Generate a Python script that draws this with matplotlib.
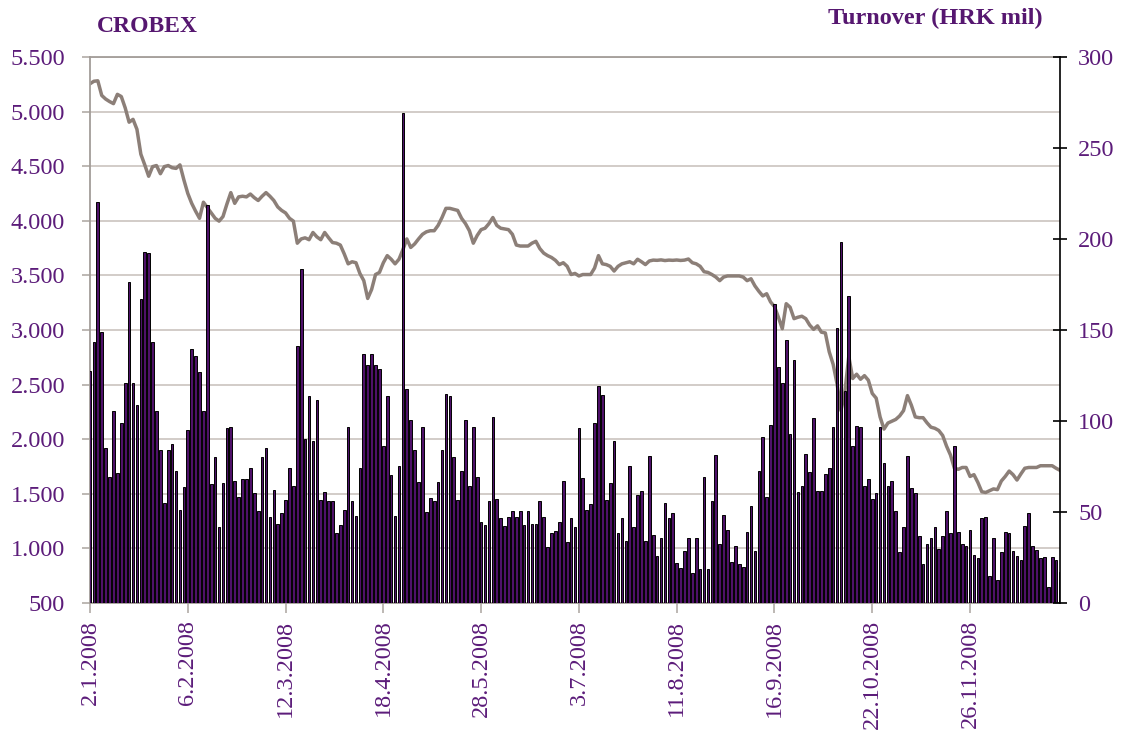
import matplotlib
matplotlib.use("Agg")
import matplotlib.pyplot as plt
from matplotlib.ticker import FuncFormatter, MultipleLocator

# daily turnover, HRK mil (right axis)
turnover = [
    127.6, 143.3, 220.6, 149.1, 85.1, 69.5, 105.7, 71.4, 98.8, 120.9,
    176.1, 120.9, 108.6, 167.3, 192.8, 192.2, 143.3, 105.7, 84.2, 54.8,
    84.2, 87.1, 72.4, 50.9, 63.6, 94.9, 139.3, 135.6, 126.8, 105.7,
    218.8, 65.6,
    80.2, 41.5, 66.1, 96.3, 96.9, 66.9, 58.3, 68.1, 68.1, 74.4,
    60.7, 50.5, 80.2, 85.1, 47.4, 62.2, 43.4, 49.3, 56.4, 74.4,
    64.2, 141.3, 183.4, 90.0, 113.9, 89.0, 111.5, 56.4, 61.1, 55.8,
    55.8, 38.7, 42.7, 51.3, 96.9, 55.8, 47.9, 74.4, 136.6, 130.7,
    136.6, 130.7, 128.6, 86.5, 113.9, 70.5, 47.9, 75.3, 269.5, 117.8,
    100.8, 84.2, 66.5, 96.9, 49.9, 57.7, 55.8, 66.5, 84.2, 115.1,
    113.9,
    80.2, 56.4, 72.8, 100.8, 64.2, 96.9, 69.5, 44.6, 42.7, 55.8,
    102.2, 57.1, 46.6, 42.1, 47.4, 50.5, 47.4, 50.5, 42.7, 50.5,
    43.4, 43.4, 55.8, 47.4, 30.9, 38.7, 39.5, 44.6, 66.9, 33.7,
    46.6,
    41.5, 96.3, 68.5, 51.3, 54.4, 98.8, 119.4, 114.5, 56.4, 66.1,
    89.0, 38.7, 46.6, 34.2, 75.3, 41.5, 59.1, 61.6, 34.2, 80.6,
    37.6, 25.8, 35.6, 55.2, 46.6, 49.3, 21.9, 19.2, 28.4, 35.6,
    16.6, 35.6, 18.6, 69.5, 18.6, 55.8, 81.2, 32.3, 48.5, 40.1,
    22.5, 31.3, 21.5, 20.0, 39.1, 53.2, 28.4, 72.8, 91.0, 58.3,
    97.9, 164.4, 129.6, 120.9, 144.4, 93.0, 133.5, 61.1, 64.2, 81.8,
    72.0,
    101.8, 61.6, 61.6, 70.8, 74.0, 96.9, 151.1, 198.6, 116.4, 168.7,
    86.5, 97.5, 96.9, 64.2, 68.1, 57.1, 60.3, 96.9, 76.7, 64.2,
    66.9, 50.5, 27.8, 41.5, 80.6, 63.0, 60.3, 36.8, 21.5, 32.3,
    35.6, 41.5, 29.7, 36.8, 50.5, 38.7, 86.5, 39.1, 32.3, 31.3,
    40.1, 26.4, 25.0, 46.6, 47.4, 14.7, 35.6, 12.7, 27.8, 39.1,
    38.7, 28.4, 25.8, 23.9, 42.1, 49.3, 31.3, 29.0, 25.0, 25.4,
    8.8, 25.4, 23.9, 17.2,
]

# CROBEX close (left axis)
crobex = [
    5255, 5278, 5282, 5148, 5115, 5092, 5073, 5158, 5138, 5034,
    4903, 4929, 4838, 4610, 4512, 4408, 4496, 4506, 4431, 4496,
    4506, 4486, 4480, 4512, 4375, 4251, 4160, 4088, 4023, 4170,
    4121,
    4072, 4023, 3997, 4039, 4153, 4258, 4160, 4219, 4225, 4219,
    4245, 4212, 4186, 4225, 4258, 4225, 4186, 4127, 4095, 4072,
    4023, 3997, 3795, 3834, 3844, 3827, 3893, 3853, 3827, 3893,
    3845,
    3801, 3795, 3778, 3697, 3606, 3625, 3616, 3518, 3452, 3289,
    3371, 3508, 3527, 3616, 3681, 3648, 3606, 3648, 3736, 3834,
    3756, 3788, 3834, 3876, 3899, 3909, 3909, 3958, 4030, 4114,
    4114,
    4104, 4095, 4023, 3974, 3909, 3795, 3866, 3919, 3932, 3974,
    4030, 3958, 3932, 3925, 3919, 3876, 3778, 3769, 3769, 3769,
    3795, 3812, 3746, 3704, 3681, 3664, 3638, 3599, 3616, 3583,
    3508,
    3518, 3495, 3508, 3508, 3508, 3567, 3681, 3606, 3599, 3583,
    3540, 3583, 3606, 3616, 3625, 3606, 3648, 3625, 3599, 3632,
    3640, 3638, 3642, 3636, 3640, 3638, 3641, 3637, 3640, 3650,
    3616, 3606, 3583, 3534, 3527, 3508, 3485, 3452, 3485, 3495,
    3495, 3495, 3495, 3485, 3452, 3469, 3404, 3355, 3312, 3332,
    3257, 3214, 3117, 3012, 3241, 3208, 3104, 3117, 3126, 3104,
    3045,
    3006, 3038, 2980, 2973, 2800, 2686, 2507, 2262, 2432, 2758,
    2556, 2595, 2549, 2582, 2540, 2419, 2376, 2204, 2093, 2148,
    2164, 2181, 2213, 2262, 2399, 2311, 2204, 2197, 2197, 2150,
    2110, 2100, 2080, 2034, 1936, 1855, 1734, 1724, 1741, 1741,
    1659, 1675, 1604, 1519, 1512, 1529, 1545, 1538, 1617, 1659,
    1708, 1675, 1626, 1682, 1734, 1741, 1741, 1741, 1757, 1757,
    1757, 1757, 1734, 1715,
]

tick_labels = ["2.1.2008", "6.2.2008", "12.3.2008", "18.4.2008", "28.5.2008",
               "3.7.2008", "11.8.2008", "16.9.2008", "22.10.2008", "26.11.2008"]
tick_step = 25  # trading days between labels

PURPLE = "#5c1c7a"
TITLE = "#561770"

plt.rcParams["font.family"] = ["Liberation Serif", "DejaVu Serif"]

days = list(range(len(crobex)))

fig = plt.figure(figsize=(11.23, 7.37), dpi=100)
ax = fig.add_axes([90 / 1123, 1 - 603 / 737, 970 / 1123, 546 / 737])
ax2 = ax.twinx()

# CROBEX line (left axis, drawn beneath the bars)
ax.plot(days, crobex, color="#8c7f78", lw=2.5, solid_joinstyle="round")
ax.set_ylim(500, 5500)
ax.yaxis.set_major_locator(MultipleLocator(500))
ax.yaxis.set_major_formatter(FuncFormatter(lambda v, p: f"{int(v):,}".replace(",", ".")))
ax.yaxis.grid(True, color="#cfc8c4", lw=1.3)
ax.set_axisbelow(True)

# turnover bars (right axis)
ax2.bar(days, turnover, width=0.68, color="#4e1169", edgecolor="black", lw=0.7)
ax2.set_ylim(0, 300)
ax2.yaxis.set_major_locator(MultipleLocator(50))
ax2.set_xlim(0, len(days) - 1)

ax.set_xticks([i * tick_step for i in range(len(tick_labels))])
ax.set_xticklabels(tick_labels, rotation=90)

for s in ("top", "left", "bottom"):
    ax.spines[s].set_color("#a39d99")
    ax.spines[s].set_linewidth(1.3)
ax.spines["right"].set_visible(False)
for s in ("top", "left", "bottom"):
    ax2.spines[s].set_visible(False)
ax2.spines["right"].set_color("black")
ax2.spines["right"].set_linewidth(1.2)

ax.tick_params(axis="y", direction="out", length=6, width=1.3, color="#b8b2ae",
               labelcolor=PURPLE, labelsize=17.5, pad=12)
ax.tick_params(axis="x", direction="out", length=7, width=1.3, color="#b8b2ae",
               labelcolor=PURPLE, labelsize=17.5, pad=5)
ax2.tick_params(axis="y", direction="inout", length=10, width=1.2, color="black",
                labelcolor=PURPLE, labelsize=17.5, pad=8)

fig.text(97 / 1123, 1 - 27 / 737, "CROBEX", color=TITLE, fontsize=17,
         fontweight="bold", ha="left", va="center")
fig.text(1043 / 1123, 1 - 18 / 737, "Turnover (HRK mil)", color=TITLE,
         fontsize=17.5, fontweight="bold", ha="right", va="center")

fig.savefig("out.png", dpi=100)
